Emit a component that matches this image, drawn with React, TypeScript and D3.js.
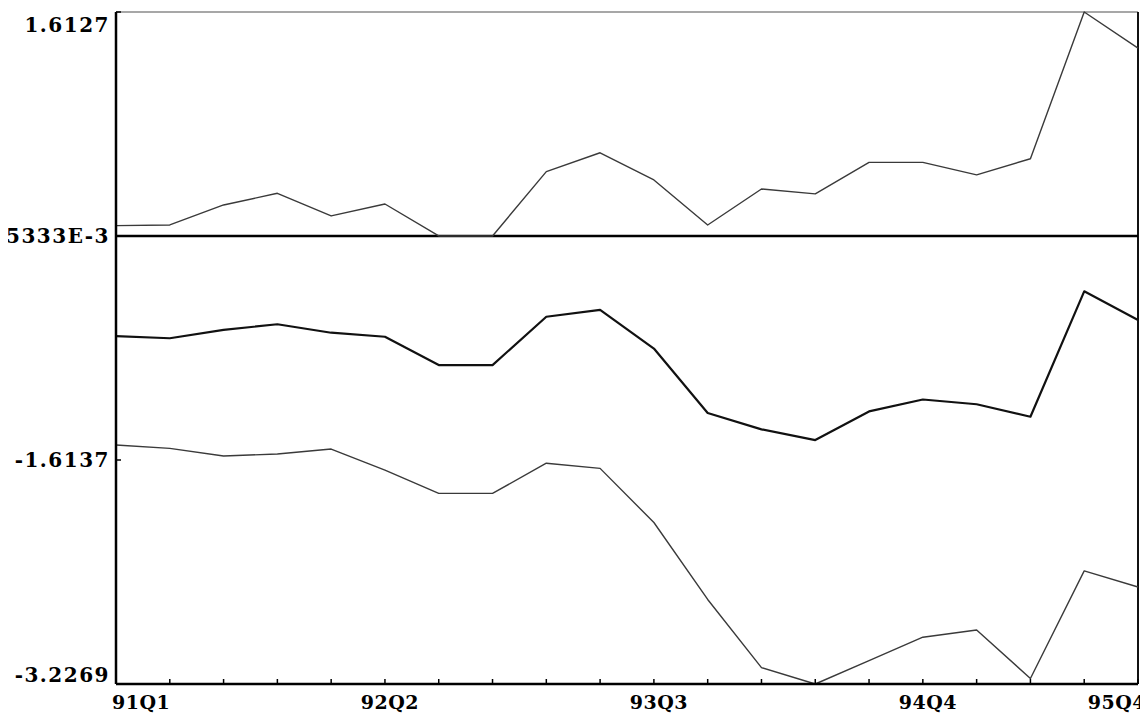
import React, { useRef, useEffect } from 'react';
import * as d3 from 'd3';

// quarters 91Q1 .. 95Q4
const quarters = [
  '91Q1', '91Q2', '91Q3', '91Q4',
  '92Q1', '92Q2', '92Q3', '92Q4',
  '93Q1', '93Q2', '93Q3', '93Q4',
  '94Q1', '94Q2', '94Q3', '94Q4',
  '95Q1', '95Q2', '95Q3', '95Q4',
];

const upper = [
  0.074, 0.079, 0.223, 0.307, 0.144, 0.23, 0, 0, 0.463, 0.599,
  0.403, 0.079, 0.338, 0.303, 0.53, 0.53, 0.44, 0.556, 1.6127, 1.353,
];

const middle = [
  -0.721, -0.737, -0.677, -0.636, -0.697, -0.726, -0.93, -0.93, -0.582, -0.533,
  -0.811, -1.275, -1.393, -1.47, -1.264, -1.178, -1.212, -1.302, -0.399, -0.606,
];

const lower = [
  -1.506, -1.53, -1.585, -1.57, -1.535, -1.686, -1.854, -1.854, -1.637, -1.674,
  -2.064, -2.618, -3.109, -3.2269, -3.058, -2.89, -2.838, -3.187, -2.412, -2.528,
];

const yTicks = [1.6127, -0.0005333, -1.6137, -3.2269];
const yTickLabels = ['1.6127', '-.5333E-3', '-1.6137', '-3.2269'];
const xTickLabels = ['91Q1', '92Q2', '93Q3', '94Q4', '95Q4'];

function Chart({ width = 1140, height = 715 }) {
  const ref = useRef(null);

  useEffect(() => {
    const svg = d3.select(ref.current);
    svg.selectAll('*').remove();

    // page coordinates (svg sits inside the 8px body margin)
    const left = 116, right = 1138, top = 12, bottom = 684;
    const g = svg.append('g').attr('transform', 'translate(-8,-8)');

    const x = d3.scalePoint().domain(quarters).range([left, right]);
    const y = d3.scaleLinear().domain([-3.2269, 1.6127]).range([bottom, top]);

    // frame
    g.append('line')
      .attr('x1', left).attr('x2', right).attr('y1', top).attr('y2', top)
      .attr('stroke', '#8a8a8a').attr('stroke-width', 1.5);
    g.append('line')
      .attr('x1', right).attr('x2', right).attr('y1', top).attr('y2', bottom)
      .attr('stroke', '#111').attr('stroke-width', 2);

    // zero line
    g.append('line')
      .attr('x1', left).attr('x2', right).attr('y1', y(0)).attr('y2', y(0))
      .attr('stroke', '#000').attr('stroke-width', 2.5);

    const line = d3
      .line()
      .x((d, i) => x(quarters[i]))
      .y((d) => y(d));

    const series = [
      { data: upper, color: '#3a3a3a', w: 1.4 },
      { data: middle, color: '#111', w: 2.2 },
      { data: lower, color: '#3a3a3a', w: 1.4 },
    ];

    series.forEach((s) => {
      g.append('path')
        .datum(s.data)
        .attr('d', line)
        .attr('fill', 'none')
        .attr('stroke', s.color)
        .attr('stroke-width', s.w)
        .attr('stroke-linejoin', 'round');
    });

    // axes
    g.append('line')
      .attr('x1', left).attr('x2', left).attr('y1', top).attr('y2', bottom)
      .attr('stroke', '#000').attr('stroke-width', 2.5);
    g.append('line')
      .attr('x1', left).attr('x2', right).attr('y1', bottom).attr('y2', bottom)
      .attr('stroke', '#000').attr('stroke-width', 2.5);

    // bottom ticks
    g.selectAll('.xt')
      .data(quarters)
      .enter()
      .append('line')
      .attr('x1', (d) => x(d)).attr('x2', (d) => x(d))
      .attr('y1', bottom).attr('y2', bottom - 5)
      .attr('stroke', '#000').attr('stroke-width', 1.5);

    // left ticks
    g.selectAll('.yt')
      .data(yTicks)
      .enter()
      .append('line')
      .attr('x1', left).attr('x2', left + 5)
      .attr('y1', (d) => y(d)).attr('y2', (d) => y(d))
      .attr('stroke', '#000').attr('stroke-width', 1.5);

    const font = "'DejaVu Serif', serif";

    g.selectAll('.yl')
      .data(yTicks)
      .enter()
      .append('text')
      .attr('x', left - 6)
      .attr('y', (d) => Math.min(Math.max(y(d), top + 13), bottom - 9))
      .attr('dy', '0.36em')
      .attr('text-anchor', 'end')
      .attr('font-family', font)
      .attr('font-weight', 'bold')
      .attr('font-size', 20)
      .attr('letter-spacing', 1.5)
      .attr('fill', '#000')
      .text((d, i) => yTickLabels[i]);

    const last = xTickLabels.length - 1;
    g.selectAll('.xl')
      .data(xTickLabels)
      .enter()
      .append('text')
      .attr('x', (d, i) => (i === 0 ? x(d) - 4 : i === last ? x(d) + 8 : x(d) + 5))
      .attr('y', bottom + 18)
      .attr('dy', '0.36em')
      .attr('text-anchor', (d, i) => (i === 0 ? 'start' : i === last ? 'end' : 'middle'))
      .attr('font-family', font)
      .attr('font-weight', 'bold')
      .attr('font-size', 19)
      .attr('letter-spacing', 0.5)
      .attr('fill', '#000')
      .text((d) => d);
  }, [width, height]);

  return <svg ref={ref} width={width} height={height} style={{ display: 'block' }}></svg>;
}

export default function App() {
  return <Chart />;
}
